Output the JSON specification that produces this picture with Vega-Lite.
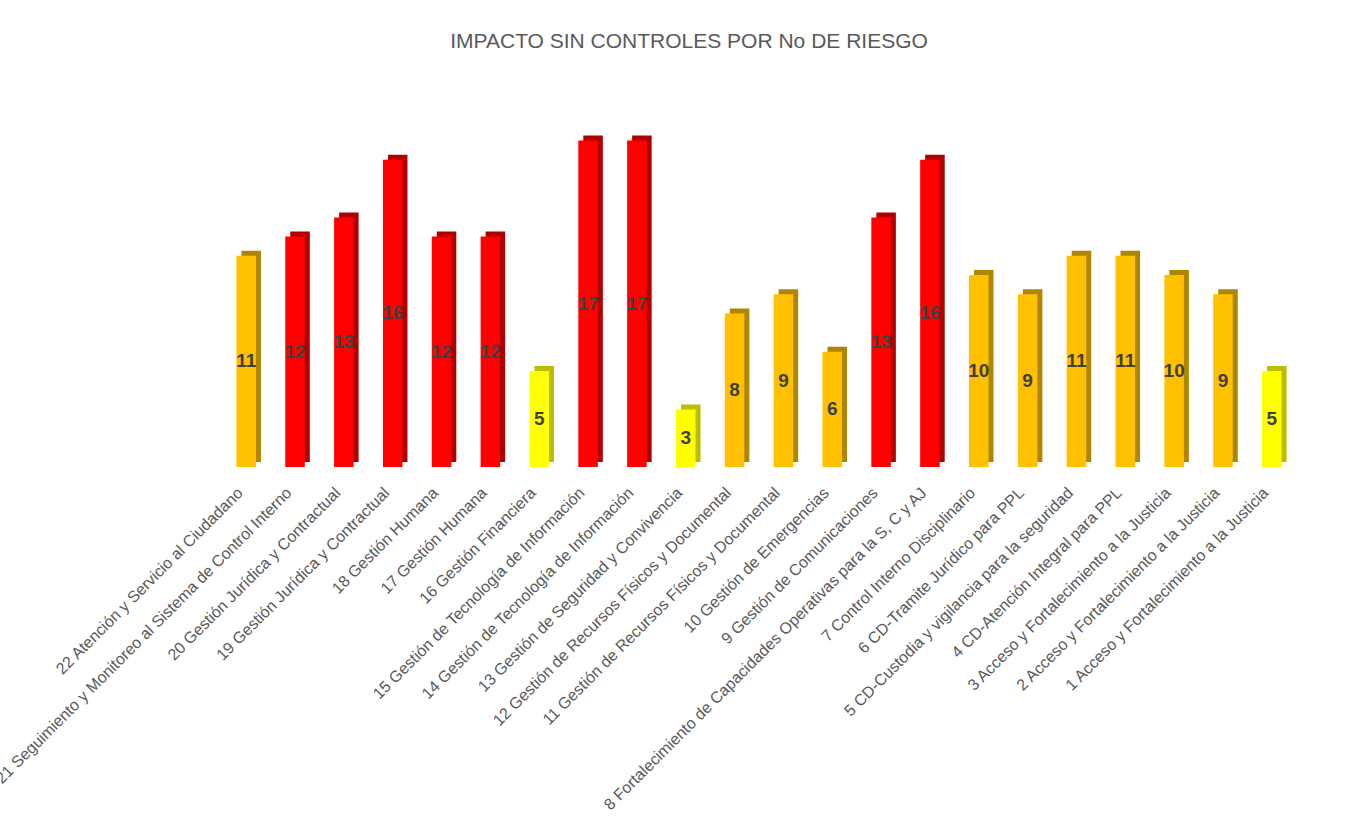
{
  "$schema": "https://vega.github.io/schema/vega-lite/v6.json",
  "width": 1094,
  "height": 384,
  "autosize": {"type": "none"},
  "padding": {"left": 212, "top": 83, "right": 65, "bottom": 362},
  "background": "white",
  "config": {"view": {"stroke": null}, "font": "Liberation Sans"},
  "title": {
    "text": "IMPACTO SIN CONTROLES POR No DE RIESGO",
    "anchor": "middle",
    "frame": "group",
    "dx": -70,
    "offset": 31,
    "fontSize": 21,
    "fontWeight": "normal",
    "font": "Liberation Sans",
    "color": "#595959"
  },
  "data": {
    "values": [
      {"riesgo": "22 Atención y Servicio al Ciudadano", "impacto": 11},
      {"riesgo": "21 Seguimiento y Monitoreo al Sistema de Control Interno", "impacto": 12},
      {"riesgo": "20 Gestión Jurídica y Contractual", "impacto": 13},
      {"riesgo": "19 Gestión Jurídica y Contractual", "impacto": 16},
      {"riesgo": "18 Gestión Humana", "impacto": 12},
      {"riesgo": "17 Gestión Humana", "impacto": 12},
      {"riesgo": "16 Gestión Financiera", "impacto": 5},
      {"riesgo": "15 Gestión de Tecnología de Información", "impacto": 17},
      {"riesgo": "14 Gestión de Tecnología de Información", "impacto": 17},
      {"riesgo": "13 Gestión de Seguridad y Convivencia", "impacto": 3},
      {"riesgo": "12 Gestión de Recursos Físicos y Documental", "impacto": 8},
      {"riesgo": "11 Gestión de Recursos Físicos y Documental", "impacto": 9},
      {"riesgo": "10 Gestión de Emergencias", "impacto": 6},
      {"riesgo": "9 Gestión de Comunicaciones", "impacto": 13},
      {"riesgo": "8 Fortalecimiento de Capacidades Operativas para la S, C y AJ", "impacto": 16},
      {"riesgo": "7 Control Interno Disciplinario", "impacto": 10},
      {"riesgo": "6 CD-Tramite Jurídico para PPL", "impacto": 9},
      {"riesgo": "5 CD-Custodia y vigilancia para la seguridad", "impacto": 11},
      {"riesgo": "4 CD-Atención Integral para PPL", "impacto": 11},
      {"riesgo": "3 Acceso y Fortalecimiento a la Justicia", "impacto": 10},
      {"riesgo": "2 Acceso y Fortalecimiento a la Justicia", "impacto": 9},
      {"riesgo": "1 Acceso y Fortalecimiento a la Justicia", "impacto": 5}
    ]
  },
  "encoding": {
    "x": {
      "field": "riesgo",
      "type": "nominal",
      "sort": null,
      "scale": {"paddingInner": 0.6, "paddingOuter": 0.5},
      "axis": {
        "title": null,
        "domain": false,
        "ticks": false,
        "labelAngle": -45,
        "labelAlign": "right",
        "labelBaseline": "middle",
        "labelFontSize": 16,
        "labelFont": "Liberation Sans",
        "labelColor": "#595959",
        "labelLimit": 1000,
        "labelOverlap": false,
        "labelBound": false,
        "labelPadding": 23,
        "labelOffset": -6
      }
    }
  },
  "layer": [
    {
      "mark": {"type": "bar", "xOffset": 5, "yOffset": -5},
      "encoding": {
        "y": {"field": "impacto", "type": "quantitative", "scale": {"domain": [0, 20]}, "axis": null},
        "color": {
          "condition": [
            {"test": "datum.impacto >= 12", "value": "#B00000"},
            {"test": "datum.impacto >= 6", "value": "#B08600"}
          ],
          "value": "#BDBD00"
        }
      }
    },
    {
      "mark": {"type": "bar"},
      "encoding": {
        "y": {"field": "impacto", "type": "quantitative", "scale": {"domain": [0, 20]}, "axis": null},
        "color": {
          "condition": [
            {"test": "datum.impacto >= 12", "value": "#FF0000"},
            {"test": "datum.impacto >= 6", "value": "#FFC000"}
          ],
          "value": "#FFFF00"
        }
      }
    },
    {
      "mark": {"type": "text", "fontSize": 19, "fontWeight": "bold", "color": "#404040", "baseline": "middle", "font": "Liberation Sans"},
      "encoding": {
        "y": {"field": "impacto", "type": "quantitative", "scale": {"domain": [0, 40]}, "axis": null},
        "text": {"field": "impacto", "type": "quantitative"}
      }
    }
  ],
  "resolve": {"scale": {"y": "independent"}}
}
